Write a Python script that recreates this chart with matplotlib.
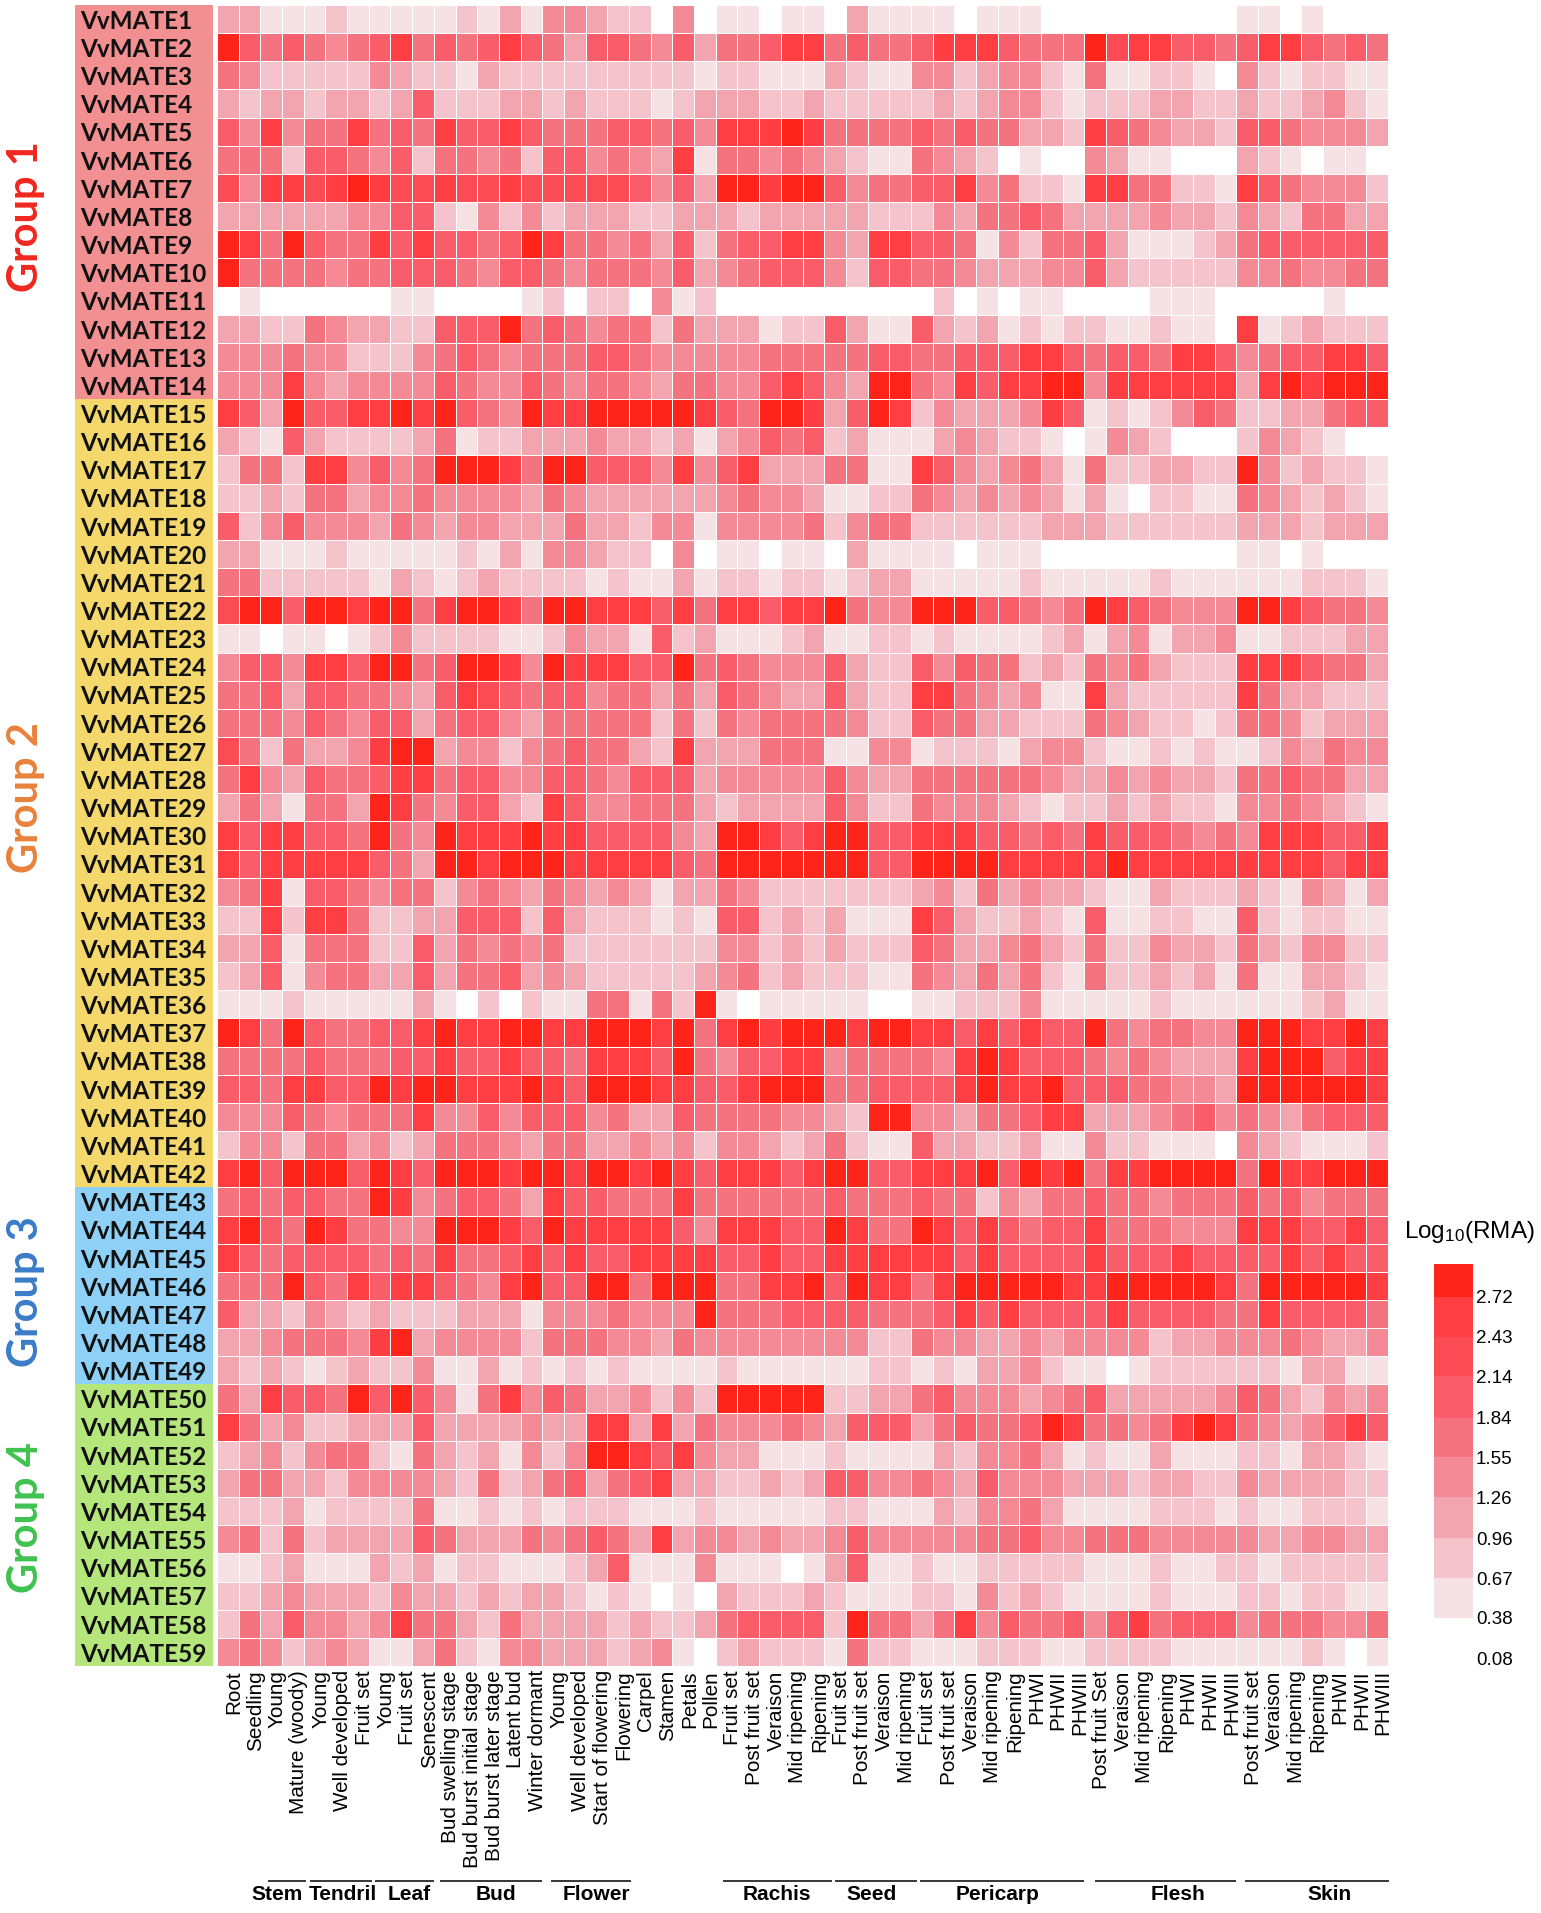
import numpy as np
import matplotlib
matplotlib.use("Agg")
import matplotlib.pyplot as plt
from matplotlib.colors import ListedColormap, BoundaryNorm

plt.rcParams["mathtext.fontset"] = "custom"
plt.rcParams["mathtext.rm"] = "Liberation Sans"
plt.rcParams["mathtext.default"] = "rm"

W, H = 1541, 1913

genes = [f"VvMATE{i}" for i in range(1, 60)]
tissues = ["Root", "Seedling", "Young", "Mature (woody)", "Young", "Well developed", "Fruit set",
           "Young", "Fruit set", "Senescent", "Bud swelling stage", "Bud burst initial stage",
           "Bud burst later stage", "Latent bud", "Winter dormant", "Young", "Well developed",
           "Start of flowering", "Flowering", "Carpel", "Stamen", "Petals", "Pollen",
           "Fruit set", "Post fruit set", "Veraison", "Mid ripening", "Ripening",
           "Fruit set", "Post fruit set", "Veraison", "Mid ripening",
           "Fruit set", "Post fruit set", "Veraison", "Mid ripening", "Ripening", "PHWI", "PHWII", "PHWIII",
           "Post fruit Set", "Veraison", "Mid ripening", "Ripening", "PHWI", "PHWII", "PHWIII",
           "Post fruit set", "Veraison", "Mid ripening", "Ripening", "PHWI", "PHWII", "PHWIII"]

# colour-bin index of each cell (0 = lowest bin); three column blocks
levels_left = [
"331112111112131443","965654568565686536","542222243221322222","323323323622233232",
"648455856586686555","555266546255452664","748878987787787777","333333446621424233",
"985965586866569855","955554556665466545","010000001100001202","332254332266695654",
"444544222456545556","444843444465446545","863966889896549889",
"321632222351223334","255288464599985996","223255344544443543","624644435434433353",
"331112111112131443","552222213212322221","799699899589985998","110110124222211243",
"466488699569984988","556366554368765664","555465466356643555","752533489934424565",
"584365568856644665","353155398546632864","868866595498889886",
"868888865399899988","458166545524543543","228288522336662632","336155522635454522",
"236145533635563432","111211111310202115","985965566898899889","555565556686686658",
"665886698998889869","444654555844646664","244255342355543553","896999698699989989",
"565665598456653866","896598554499986988","865666656585568686",
"555965868865489669","633243232223331444","334555489344442555","323212322411312121",
"538665969641584653","853422333633334338","234245521532314249","355332444432523563",
"222312222511212122","452523333653335456","112311132312211123","223433324332323321",
"253644348553253333","454234311352144333",
]
levels_mid = [
"220401101103111101","654635568856556888","222212211132114423","221233322322222323",
"665648889855556565","543815545432115432","764639989964556684","322333233333222435",
"453625668843886651","554634566642665543","204120000000000201","552533312263116323",
"654444455555665566","543554468643995486","999986599836982433",
"332313465623111343","664846833355118643","333334544311225434","324414444524552222",
"220401101103111101","211312212212331111","886858868895449996","316231112311221211",
"866956544463226465","553536543363228854","552525455554226553","532833355511441222",
"466634444464335555","455532333364225444","666439986899668886",
"888659999999669999","431335422222223425","221216623231118632","222224423232226533",
"222234523222115435","515291011111001122","998958989998998868","886954668845555489",
"998866899955666689","533655554432994435","343424432352116332","989868886899668889",
"555855555565556552","888648886698559868","688886686688888868",
"959995588969885899","544495556666555686","443544444444225443","211112111111221213",
"342429999922335644","838354445436663565","986843311121111324","568332232366445436",
"211121111122111324","538344343346444445","611141110136112112","210103222321112214",
"232235666629553584","234102322215221112",
]
levels_right = [
"110000000001101000","655597886656886565","442151122104212211","442122233223223421",
"533286543326654443","010043110003210110","522188552218654442","565333343324325533",
"425563111235666666","334463222224454455","011000011100000100","121221121108123222",
"688656658864566886","889948888883898999","348612124652233566",
"221014320002432100","453152233229423221","343131022115432321","223332222223332333",
"110000000001101000","121111121111112221","654598654449986554","112313413341122233",
"523254532228886553","341183222228533222","322254322125542333","134421121211243544",
"554334343325565533","321223232214454321","656586665454888668",
"888889888888888688","343321132223214313","232161122116212211","453252243325324422",
"352152232315113321","241111121111112311","686695455449998898","866654543338999688",
"889666554439999998","568833345645435666","231142211104321112","698958899995988999",
"435565545556564555","656685554448886686","666686668666686866",
"999889999985999998","866668666655866665","343444423344454334","342110122222213311",
"434563333346532434","569855458985434686","453121131112213321","444333233224333322",
"453111122212112221","564455544444334433","222211121122122222","232111121112212211",
"655646856664555445","221122221111112101",
]
bin_edges = [0.08, 0.38, 0.67, 0.96, 1.26, 1.55, 1.84, 2.14, 2.43, 2.72, 3.0]
bin_colors = ["#ffffff", "#f6e2e5", "#f4c3cb", "#f2a4af", "#f38a95", "#f4737f",
              "#f85d69", "#fb4c55", "#fe3e43", "#ff2419"]
tick_values = [2.72, 2.43, 2.14, 1.84, 1.55, 1.26, 0.96, 0.67, 0.38, 0.08]

groups = ["Group 1", "Group 2", "Group 3", "Group 4"]
group_sizes = [14, 28, 7, 10]
group_fill = ["#f28f91", "#f5d86c", "#8fd1f6", "#b5e67c"]
group_text = ["#f0281e", "#e8823c", "#3a7cc8", "#3fc24f"]

tissue_names = ["Stem", "Tendril", "Leaf", "Bud", "Flower", "Rachis", "Seed", "Pericarp", "Flesh", "Skin"]
tissue_spans = [(2.35, 4.1), (4.3, 7.15), (7.3, 10.0), (10.3, 15.0), (15.4, 19.1),
                (23.35, 28.35), (28.5, 32.3), (32.4, 40.0), (40.5, 47.0), (47.4, 54.05)]
tissue_text_x = [2.75, 5.8, 8.85, 12.85, 17.5, 25.8, 30.2, 36.0, 44.3, 51.3]


def box(x0, y0, x1, y1):
    return [x0 / W, 1 - y1 / H, (x1 - x0) / W, (y1 - y0) / H]


level_rows = [a + b + c for a, b, c in zip(levels_left, levels_mid, levels_right)]
levels = np.array([[int(ch) for ch in r] for r in level_rows])
centres = (np.array(bin_edges[:-1]) + np.array(bin_edges[1:])) / 2
values = centres[levels]
cmap = ListedColormap(bin_colors)
norm = BoundaryNorm(bin_edges, cmap.N)

fig = plt.figure(figsize=(W / 100, H / 100), dpi=100, facecolor="white")

HX0, HX1, HY0, HY1 = 217, 1388, 5, 1666
ax = fig.add_axes(box(HX0, HY0, HX1, HY1))
ax.pcolormesh(np.arange(55), np.arange(60), values, cmap=cmap, norm=norm,
              edgecolors="white", linewidth=0.45)
ax.set_xlim(0, 54)
ax.set_ylim(59, 0)
ax.set_yticks([])
ax.set_xticks(np.arange(54) + 0.78)
ax.set_xticklabels(tissues, rotation=90, fontsize=14.9, family="Liberation Sans", ha="center", va="top")
ax.tick_params(axis="x", length=0, pad=3)
for s in ax.spines.values():
    s.set_visible(False)

# gene label strip with group colours
axl = fig.add_axes(box(75, HY0, 213, HY1))
axl.set_xlim(0, 1)
axl.set_ylim(59, 0)
axl.axis("off")
start = 0
for size, fill in zip(group_sizes, group_fill):
    axl.barh(np.arange(start, start + size) + 0.5, [1] * size, height=1.0, color=fill, linewidth=0)
    start += size
for i, g in enumerate(genes):
    axl.text(0.035, i + 0.58, g, fontsize=17.5, fontweight="bold", family="Lato",
             ha="left", va="center", color="#111111")

# group labels
group_centres_px = [217, 798, 1292, 1518]
for name, col, yc in zip(groups, group_text, group_centres_px):
    fig.text(26 / W, 1 - yc / H, name, rotation=90, fontsize=30, fontweight="bold", family="Lato",
             color=col, ha="center", va="center")

# tissue brackets
for name, (a, b), tx in zip(tissue_names, tissue_spans, tissue_text_x):
    ax.plot([a, b], [66.63, 66.63], color="black", lw=1.1, clip_on=False, solid_capstyle="butt")
    ax.text(tx, 67.12, name, fontsize=15, fontweight="bold", family="Liberation Sans",
            ha="center", va="center", clip_on=False)

# colour key
axc = fig.add_axes(box(1434, 1264, 1473, 1664))
axc.pcolormesh([0, 1], np.array(bin_edges), centres.reshape(-1, 1), cmap=cmap, norm=norm,
               edgecolors="none")
axc.set_ylim(0.0435, 2.96)
axc.set_xlim(0, 1)
axc.set_xticks([])
axc.yaxis.tick_right()
axc.set_yticks(tick_values)
axc.set_yticklabels([f"{v:.2f}" for v in tick_values], fontsize=13.5, family="Liberation Sans")
axc.tick_params(axis="y", length=0, pad=2)
for s in axc.spines.values():
    s.set_visible(False)
fig.text(1404 / W, 1 - 1232 / H, r"Log$_{10}$(RMA)", fontsize=17.5, family="Liberation Sans",
         ha="left", va="center")

fig.savefig("out.png", dpi=100, facecolor="white")
